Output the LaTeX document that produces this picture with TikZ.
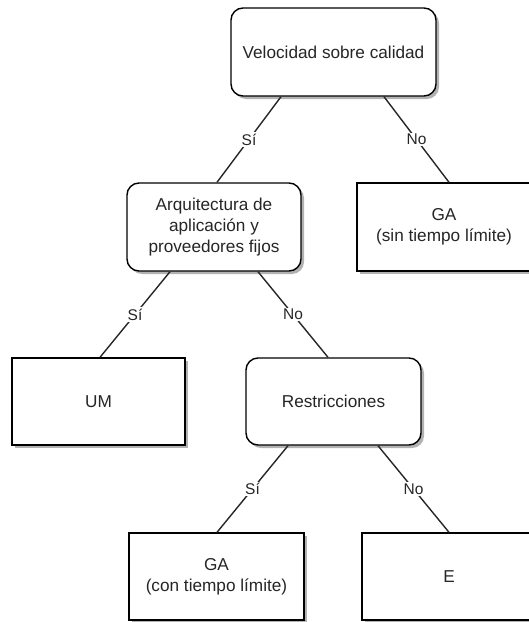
\documentclass[tikz,border=0pt]{standalone}
\usepackage{fontspec}
\setmainfont{Liberation Sans}
\usetikzlibrary{shadows,calc}

\tikzset{
  box/.style={draw=black, line width=1.4pt, fill=white, align=center,
    inner sep=2pt, text=black!85,
    font=\fontsize{17.2}{20.8}\selectfont,
    drop shadow={shadow xshift=3pt, shadow yshift=-3pt, fill=black, opacity=0.3}},
  decision/.style={box, rounded corners=12pt},
  outcome/.style={box},
  link/.style={draw=black!85, line width=1.4pt},
  answer/.style={fill=white, inner sep=1.5pt, text=black!85,
    font=\fontsize{15.5}{18}\selectfont}
}

\begin{document}
\begin{tikzpicture}[x=1pt,y=-1pt]
  \useasboundingbox (0,0) rectangle (529,622);
  \clip (0,0) rectangle (529,622);

  % decision nodes
  \node[decision, minimum width=205, minimum height=88] (speed) at (333.5,52)
    {Velocidad sobre calidad};
  \node[decision, minimum width=174, minimum height=88] (arch) at (214,227)
    {Arquitectura de\\aplicación y\\proveedores fijos};
  \node[decision, minimum width=175, minimum height=87] (restr) at (333.5,401.5)
    {Restricciones};

  % outcomes
  \node[outcome, minimum width=174, minimum height=88] (gafree) at (444,227)
    {GA\\(sin tiempo límite)};
  \node[outcome, minimum width=173, minimum height=87] (um) at (98.5,401.5)
    {UM};
  \node[outcome, minimum width=175, minimum height=87] (galim) at (216.5,576.5)
    {GA\\(con tiempo límite)};
  \node[outcome, minimum width=174, minimum height=87] (e) at (449,576.5)
    {E};

  % branches
  \path[link] ([xshift=-52.5pt]speed.south) -- node[answer] {Sí} ([xshift=3pt]arch.north);
  \path[link] ([xshift=50.5pt]speed.south) -- node[answer] {No} ([xshift=5pt]gafree.north);
  \path[link] ([xshift=-44pt]arch.south) -- node[answer] {Sí} ([xshift=1.5pt]um.north);
  \path[link] ([xshift=44pt]arch.south) -- node[answer] {No} ([xshift=-5.5pt]restr.north);
  \path[link] ([xshift=-45.5pt]restr.south) -- node[answer] {Sí} ([xshift=0.5pt]galim.north);
  \path[link] ([xshift=44.5pt]restr.south) -- node[answer] {No} (e.north);
\end{tikzpicture}
\end{document}
